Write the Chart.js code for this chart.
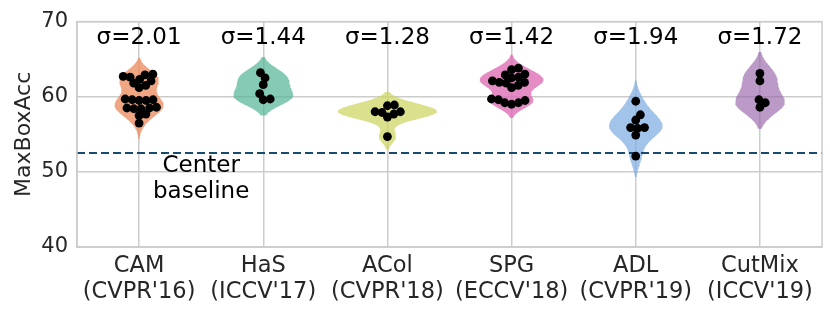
<!DOCTYPE html>
<html>
<head>
<meta charset="utf-8">
<script src="https://cdn.jsdelivr.net/npm/chart.js@4.4.1/dist/chart.umd.min.js"></script>
<style>
  html, body { margin: 0; padding: 0; background: #fff; }
  #wrap { width: 830px; height: 313px; }
</style>
</head>
<body>
<div id="wrap"><canvas id="violinChart" width="830" height="313"></canvas></div>
<script>
// Methods on the x axis
const methods = ['CAM', 'HaS', 'ACol', 'SPG', 'ADL', 'CutMix'];
const venues = ["(CVPR'16)", "(ICCV'17)", "(CVPR'18)", "(ECCV'18)", "(CVPR'19)", "(ICCV'19)"];
const sigmaLabels = ['σ=2.01', 'σ=1.44', 'σ=1.28', 'σ=1.42', 'σ=1.94', 'σ=1.72'];

// MaxBoxAcc of each run
const camScores = [63.0, 62.9, 62.7, 62.6, 62.3, 62.1, 61.8, 61.5, 61.2, 59.7, 59.6, 59.6, 59.5, 59.5, 58.6, 58.5, 58.5, 58.4, 58.4, 57.7, 57.5, 56.5];
const hasScores = [63.2, 62.5, 61.6, 60.4, 59.7, 59.6];
const acolScores = [58.9, 58.8, 58.0, 58.0, 57.9, 57.7, 57.3, 54.7];
const spgScores = [63.6, 63.8, 62.9, 63.0, 62.5, 62.6, 61.9, 62.1, 61.8, 61.9, 61.2, 61.5, 59.5, 59.6, 59.7, 59.2, 59.0, 59.2];
const adlScores = [59.4, 57.6, 56.9, 55.9, 55.8, 55.9, 54.9, 52.1];
const cutmixScores = [63.1, 62.1, 59.6, 59.2, 58.6];
const allScores = [camScores, hasScores, acolScores, spgScores, adlScores, cutmixScores];

const centerBaseline = 52.5;
const yTicks = [40, 50, 60, 70];

const violinColors = [
    'rgba(236,140,96,0.78)',
    'rgba(84,182,152,0.72)',
    'rgba(204,212,96,0.72)',
    'rgba(222,108,180,0.78)',
    'rgba(126,172,226,0.72)',
    'rgba(150,100,170,0.65)'
];

const FONT = "'DejaVu Sans', sans-serif";
const TEXT = '#262626';
const GRID = '#cccccc';

// Gaussian KDE (scott bandwidth, cut = 2) like seaborn's violinplot
function kde(values) {
    const n = values.length;
    const mean = values.reduce((s, v) => s + v, 0) / n;
    const sd = Math.sqrt(values.reduce((s, v) => s + (v - mean) ** 2, 0) / (n - 1));
    const bw = sd * Math.pow(n, -0.2);
    const lo = Math.min(...values) - 2 * bw;
    const hi = Math.max(...values) + 2 * bw;
    const grid = [];
    for (let k = 0; k <= 100; k++) {
        const y = lo + (hi - lo) * k / 100;
        let d = 0;
        values.forEach(v => { d += Math.exp(-0.5 * ((y - v) / bw) ** 2); });
        grid.push({ y: y, d: d / (n * bw * Math.sqrt(2 * Math.PI)) });
    }
    return grid;
}

const densities = allScores.map(kde);
const maxDensity = Math.max(...densities.map(g => Math.max(...g.map(p => p.d))));

// Outline of each violin: right side up, left side down
function violinOutline(grid, i) {
    const right = grid.map(p => ({ x: i + 0.4 * p.d / maxDensity, y: p.y }));
    const left = grid.slice().reverse().map(p => ({ x: i - 0.4 * p.d / maxDensity, y: p.y }));
    return right.concat(left);
}

const violinDatasets = densities.map((grid, i) => ({
    type: 'line',
    label: methods[i],
    data: violinOutline(grid, i),
    backgroundColor: violinColors[i],
    borderWidth: 0,
    borderColor: 'rgba(0,0,0,0)',
    pointRadius: 0,
    fill: 'shape',
    tension: 0,
    order: 3
}));

const pointDatasets = allScores.map((vals, i) => ({
    type: 'scatter',
    label: methods[i] + ' runs',
    data: vals.map(v => ({ x: i, y: v })),
    backgroundColor: '#000',
    borderWidth: 0,
    pointRadius: 4.4,
    order: 1
}));

const baselineDataset = {
    type: 'line',
    label: 'Center baseline',
    data: [{ x: -0.5, y: centerBaseline }, { x: methods.length - 0.5, y: centerBaseline }],
    borderColor: '#174a6e',
    borderWidth: 2,
    borderDash: [8, 4],
    pointRadius: 0,
    fill: false,
    order: 2
};

// Light frame around the plot (seaborn whitegrid)
const framePlugin = {
    id: 'frame',
    afterDraw(chart) {
        const { ctx, chartArea: a } = chart;
        ctx.save();
        ctx.strokeStyle = GRID;
        ctx.lineWidth = 1.5;
        ctx.strokeRect(a.left, a.top, a.right - a.left, a.bottom - a.top);
        ctx.restore();
    }
};

// Sigma labels and the baseline caption
const textPlugin = {
    id: 'texts',
    afterDatasetsDraw(chart) {
        const { ctx, scales: { x, y } } = chart;
        ctx.save();
        ctx.fillStyle = '#000';
        ctx.font = '23px ' + FONT;
        ctx.textAlign = 'center';
        ctx.textBaseline = 'middle';
        sigmaLabels.forEach((s, i) => {
            ctx.fillText(s, x.getPixelForValue(i), y.getPixelForValue(67.8));
        });
        ctx.fillText('Center', x.getPixelForValue(0.5), y.getPixelForValue(50.75));
        ctx.fillText('baseline', x.getPixelForValue(0.5), y.getPixelForValue(47.3));
        ctx.restore();
    }
};

const chart = new Chart(document.getElementById('violinChart'), {
    data: {
        datasets: [...pointDatasets, baselineDataset, ...violinDatasets]
    },
    options: {
        responsive: false,
        animation: false,
        layout: { padding: { top: 21, right: 8, left: 0, bottom: 0 } },
        plugins: {
            legend: { display: false },
            tooltip: { enabled: false }
        },
        scales: {
            x: {
                type: 'linear',
                min: -0.5,
                max: methods.length - 0.5,
                afterBuildTicks: s => { s.ticks = methods.map((m, i) => ({ value: i })); },
                afterFit: s => { s.height = 66; },
                ticks: {
                    callback: v => [methods[v], venues[v]],
                    color: TEXT,
                    font: { family: FONT, size: 22.5, lineHeight: 1.15 },
                    padding: 6,
                    maxRotation: 0,
                    autoSkip: false
                },
                grid: { color: GRID, lineWidth: 1.5, drawTicks: false },
                border: { color: GRID, width: 1.5 }
            },
            y: {
                min: 40,
                max: 70,
                afterBuildTicks: s => { s.ticks = yTicks.map(v => ({ value: v })); },
                afterFit: s => { s.width = 77; },
                ticks: {
                    color: TEXT,
                    font: { family: FONT, size: 21 },
                    padding: 9
                },
                title: {
                    display: true,
                    text: 'MaxBoxAcc',
                    color: TEXT,
                    font: { family: FONT, size: 22 },
                    padding: { top: 11, bottom: 0 }
                },
                grid: { color: GRID, lineWidth: 1.5, drawTicks: false },
                border: { color: GRID, width: 1.5 }
            }
        }
    },
    plugins: [framePlugin, textPlugin]
});

// Beeswarm layout of the run dots, done in pixel space
function layoutSwarm() {
    const xs = chart.scales.x, ys = chart.scales.y;
    const D = 7;
    allScores.forEach((vals, i) => {
        const cx = xs.getPixelForValue(i);
        const placed = [];
        vals.slice().sort((a, b) => a - b).forEach(v => {
            const py = ys.getPixelForValue(v);
            const cands = [cx];
            placed.forEach(p => {
                const dy = Math.abs(p.y - py);
                if (dy < D) {
                    const dx = Math.sqrt(D * D - dy * dy);
                    cands.push(p.x + dx, p.x - dx);
                }
            });
            cands.sort((a, b) => Math.abs(a - cx) - Math.abs(b - cx));
            const px = cands.find(c => placed.every(p => (p.x - c) ** 2 + (p.y - py) ** 2 >= D * D - 0.01));
            placed.push({ x: px, y: py, v: v });
        });
        chart.data.datasets[i].data = placed.map(p => ({ x: xs.getValueForPixel(p.x), y: p.v }));
    });
    chart.update('none');
}
layoutSwarm();
</script>
</body>
</html>
